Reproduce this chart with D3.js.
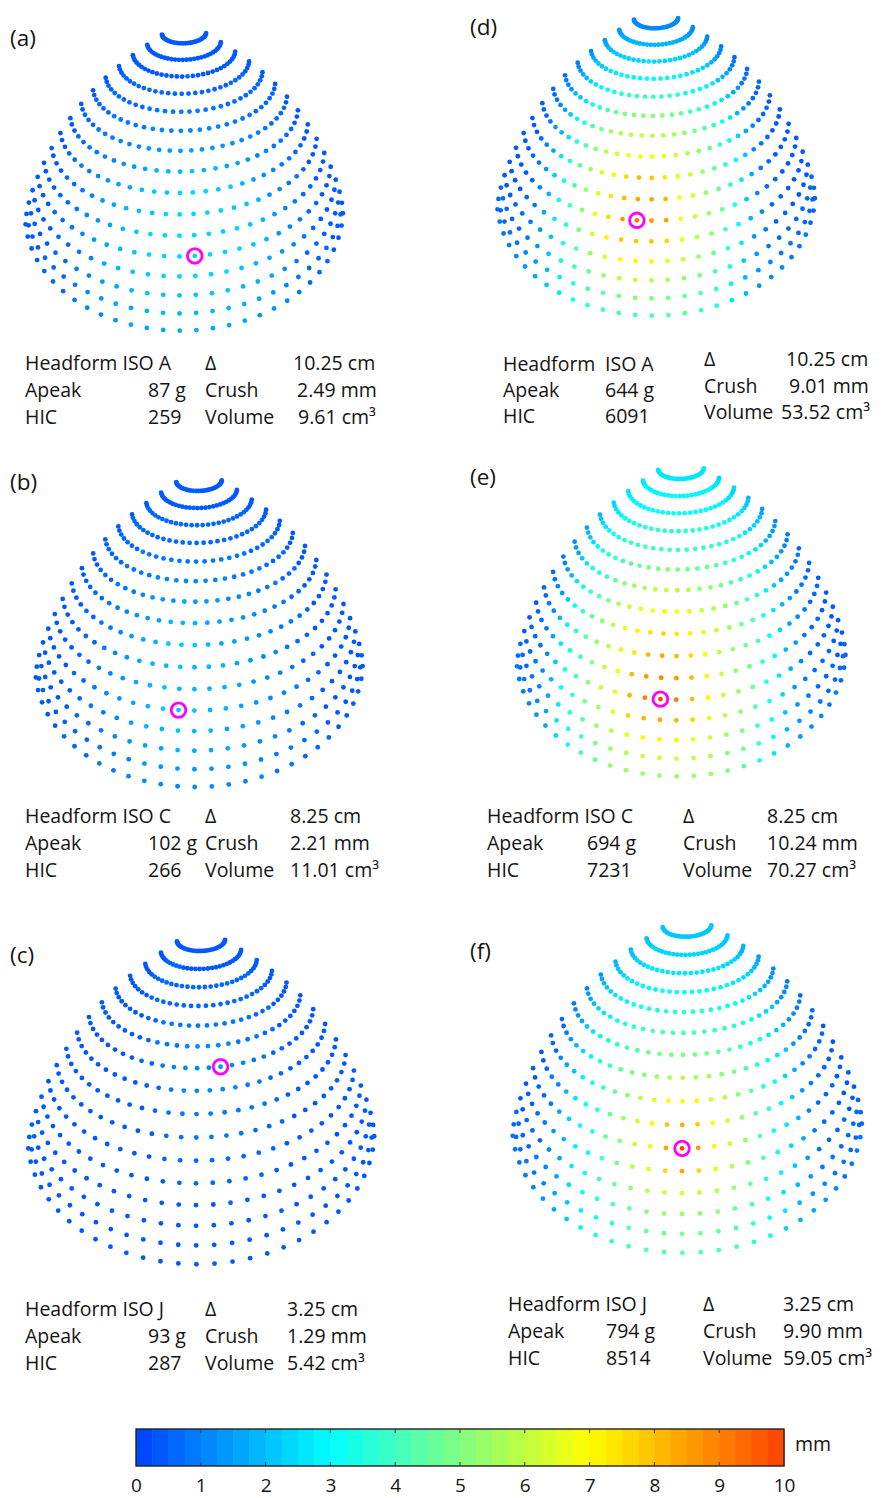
<!DOCTYPE html>
<html>
<head>
<meta charset="utf-8">
<script src="https://cdn.jsdelivr.net/npm/d3@7"></script>
<style>
  body { margin: 0; background: #fff; }
  svg text { font-family: "Open Sans", "Noto Sans", sans-serif; fill: #141414; }
</style>
</head>
<body>
<svg id="fig" width="882" height="1498"></svg>
<script>
// ---- test results per panel ----
const panelIds   = ["a", "b", "c", "d", "e", "f"];
const headforms  = ["ISO A", "ISO C", "ISO J", "ISO A", "ISO C", "ISO J"];
const deltaCm    = ["10.25", "8.25", "3.25", "10.25", "8.25", "3.25"];
const apeakG     = ["87", "102", "93", "644", "694", "794"];
const hicValues  = ["259", "266", "287", "6091", "7231", "8514"];
const crushMm    = [2.49, 2.21, 1.29, 9.01, 10.24, 9.90];
const volumeCm3  = ["9.61", "11.01", "5.42", "53.52", "70.27", "59.05"];

// impact point: ring index (0 = crown ring) and longitude index (-15 … 14)
const impactRing = [11, 11, 6, 10, 11, 10];
const impactLon  = [0, -2, 1, -2, -2, -1];

// residual crush (mm) on each ring along the impact meridian, crown → rim
const meridianA = [0.4, 0.4, 0.5, 0.6, 0.8, 1.1, 1.5, 2.0, 2.3, 2.4, 2.45, 2.49, 2.4, 2.2, 1.9, 1.5];
const meridianB = [0.5, 0.5, 0.6, 0.75, 0.9, 1.1, 1.5, 1.8, 2.1, 2.0, 1.95, 2.21, 2.0, 1.75, 1.45, 1.1];
const meridianC = [0.45, 0.45, 0.5, 0.6, 0.75, 1.0, 1.29, 1.05, 0.95, 0.85, 0.7, 0.6, 0.5, 0.45, 0.4, 0.35];
const meridianD = [1.2, 1.9, 2.5, 3.0, 4.0, 5.2, 6.0, 7.0, 8.0, 8.3, 9.01, 7.8, 7.0, 6.0, 5.0, 4.2];
const meridianE = [2.7, 3.0, 3.2, 3.7, 4.2, 5.0, 6.0, 7.0, 7.5, 8.3, 8.8, 10.24, 8.3, 7.0, 6.2, 5.3];
const meridianF = [2.2, 2.4, 2.7, 3.1, 3.6, 4.2, 5.0, 5.8, 7.0, 8.3, 9.90, 8.3, 6.3, 5.3, 4.8, 4.3];

// residual crush (mm) along the impact ring, by dot step away from the impact
const leftA  = [2.49, 2.45, 2.4, 2.3, 2.2, 1.9, 1.6, 1.3, 1.0, 0.8, 0.6, 0.5, 0.45, 0.4, 0.35, 0.35];
const rightA = [2.49, 2.45, 2.4, 2.3, 2.1, 1.8, 1.4, 1.1, 0.85, 0.65, 0.5, 0.45, 0.4, 0.35, 0.35];
const leftB  = [2.21, 2.15, 1.9, 1.6, 1.3, 1.0, 0.8, 0.65, 0.5, 0.45, 0.4, 0.35, 0.35, 0.35];
const rightB = [2.21, 2.0, 1.9, 1.8, 1.6, 1.4, 1.2, 1.0, 0.8, 0.65, 0.5, 0.45, 0.4, 0.35, 0.35, 0.35, 0.35];
const leftC  = [1.29, 1.2, 1.15, 1.1, 1.0, 0.85, 0.65, 0.5, 0.45, 0.4, 0.35, 0.35, 0.35, 0.35, 0.35, 0.35, 0.35];
const rightC = [1.29, 1.15, 1.05, 0.95, 0.8, 0.65, 0.5, 0.45, 0.4, 0.35, 0.35, 0.35, 0.35, 0.35];
const leftD  = [9.01, 8.5, 7.5, 6.5, 5.2, 4.0, 3.0, 1.8, 1.0, 0.6, 0.45, 0.4, 0.35, 0.35];
const rightD = [9.01, 8.5, 8.3, 7.0, 6.2, 5.3, 4.5, 3.5, 2.2, 1.2, 0.7, 0.5, 0.45, 0.4, 0.4, 0.4];
const leftE  = [10.24, 9.0, 8.2, 6.7, 6.0, 5.0, 4.0, 3.3, 2.2, 1.2, 0.8, 0.6, 0.5, 0.45];
const rightE = [10.24, 9.0, 8.2, 7.0, 6.0, 5.3, 4.6, 3.6, 2.6, 1.6, 1.0, 0.7, 0.55, 0.5, 0.45, 0.4];
const leftF  = [9.90, 8.3, 7.2, 6.2, 5.2, 4.5, 3.6, 3.0, 2.3, 1.5, 0.9, 0.6, 0.5, 0.45, 0.4];
const rightF = [9.90, 8.5, 7.0, 6.2, 5.3, 4.3, 3.4, 2.6, 1.8, 1.1, 0.7, 0.55, 0.5, 0.45, 0.4, 0.4];

// colour bar
const barTicks = [0, 1, 2, 3, 4, 5, 6, 7, 8, 9, 10];
const barUnit = "mm";

const meridians = [meridianA, meridianB, meridianC, meridianD, meridianE, meridianF];
const lefts  = [leftA, leftB, leftC, leftD, leftE, leftF];
const rights = [rightA, rightB, rightC, rightD, rightE, rightF];

// ---- layout ----
const layout = [
  { cx: 184, top: 43.3, s: 1.00, lab: [10, 46],  rows: [370, 397, 424], rrows: [370, 397, 424], cols: [25, 148, 205], c3: [293, 297, 298], isoX: null },
  { cx: 199, top: 491,  s: 1.03, lab: [10, 490], rows: [823, 850, 877], rrows: [823, 850, 877], cols: [25, 148, 205], c3: [290, 290, 290], isoX: null },
  { cx: 201, top: 951,  s: 1.09, lab: [10, 963], rows: [1316, 1343, 1370], rrows: [1316, 1343, 1370], cols: [25, 148, 205], c3: [287, 287, 287], isoX: null },
  { cx: 656, top: 28.3, s: 1.00, lab: [470, 35], rows: [371, 397, 423], rrows: [366, 393, 419], cols: [503, 605, 704], c3: [786, 789, 781], isoX: 605 },
  { cx: 681, top: 479,  s: 1.035, lab: [470, 485], rows: [823, 850, 877], rrows: [823, 850, 877], cols: [487, 587, 683], c3: [767, 767, 767], isoX: null },
  { cx: 687, top: 936.7, s: 1.10, lab: [470, 959], rows: [1311, 1338, 1365], rrows: [1311, 1338, 1365], cols: [508, 606, 703], c3: [783, 783, 783], isoX: null }
];

const NRINGS = 16;
const LON_STEP = 6;          // degrees between dots on a ring
const LON_MIN = -15, LON_MAX = 14;
const TILT = -2 * Math.PI / 180;
const DOT_R = 2.4;
const rad = Math.PI / 180;

// ring geometry of the dome projection
const ringTheta = i => 8 + 5.4 * i;                 // polar angle, degrees
const ringA = i => 159 * Math.sin(ringTheta(i) * rad);
const ringB = i => 10 + 7.2 * i;
const ringFront = i => d3.sum(d3.range(1, i + 1), k => 16.5 + 5 * Math.pow(Math.sin(Math.PI * (k - 1) / 16), 2));

// colour map: blue → cyan → yellow → red, 40 discrete bands over 0–10 mm
const cmapLinear = d3.scaleLinear()
  .domain([0, 3, 5, 7, 10])
  .range(["rgb(0,64,255)", "rgb(0,255,255)", "rgb(128,255,128)", "rgb(255,255,0)", "rgb(255,64,0)"])
  .interpolate(d3.interpolateRgb)
  .clamp(true);
const NBANDS = 40;
const bandColor = d3.scaleQuantize()
  .domain([0, 10])
  .range(d3.range(NBANDS).map(k => cmapLinear((k + 0.5) * 10 / NBANDS)));
const colorOf = v => bandColor(Math.max(0, Math.min(9.999, v)));

const svg = d3.select("#fig");

panelIds.forEach((id, p) => {
  const L = layout[p];
  const g = svg.append("g");
  const iRing = impactRing[p], iLon = impactLon[p];
  const merScale = d3.scaleLinear().domain(d3.range(NRINGS)).range(meridians[p]).clamp(true);
  const leftScale = d3.scaleLinear().domain(d3.range(lefts[p].length)).range(lefts[p]).clamp(true);
  const rightScale = d3.scaleLinear().domain(d3.range(rights[p].length)).range(rights[p]).clamp(true);
  const sinImp = Math.sin(ringTheta(iRing) * rad);

  // crush at ring i, longitude j: the meridian and along-ring profiles are
  // blended over elliptical contours centred on the impact
  const crushAt = (i, j) => {
    const k = i - iRing;
    const dLon = j - iLon;
    const s = Math.abs(dLon) * Math.sin(ringTheta(i) * rad) / sinImp;
    const r = Math.hypot(k, s);
    if (r === 0) return crushMm[p];
    const w = (k * k) / (r * r);
    const fSide = (dLon < 0 ? leftScale : rightScale)(r);
    const fMer = merScale(k < 0 ? iRing - r : iRing + r);
    return (1 - w) * fSide + w * fMer;
  };

  const pos = (i, j) => {
    const phi = (j + 0.5) * LON_STEP * rad;
    const a = ringA(i) * L.s, b = ringB(i) * L.s;
    const lx = a * Math.sin(phi), ly = b * Math.cos(phi);
    const rx = lx * Math.cos(TILT) - ly * Math.sin(TILT);
    const ry = lx * Math.sin(TILT) + ly * Math.cos(TILT);
    const cy = L.top + ringFront(i) * L.s - b;
    return [L.cx + rx, cy + ry];
  };

  const dots = [];
  for (let i = 0; i < NRINGS; i++) {
    for (let j = LON_MIN; j <= LON_MAX; j++) {
      const [x, y] = pos(i, j);
      dots.push({ i, j, x, y, v: crushAt(i, j) });
    }
  }

  g.selectAll("circle.dot")
    .data(dots)
    .join("circle")
    .attr("class", "dot")
    .attr("cx", d => d.x)
    .attr("cy", d => d.y)
    .attr("r", DOT_R)
    .attr("fill", d => colorOf(d.v));

  // impact marker
  const [ix, iy] = pos(iRing, iLon);
  g.append("circle").attr("cx", ix).attr("cy", iy).attr("r", 7.3)
    .attr("fill", "#fff").attr("stroke", "#ff00ff").attr("stroke-width", 2.8);
  g.append("circle").attr("cx", ix).attr("cy", iy).attr("r", DOT_R)
    .attr("fill", colorOf(crushMm[p]));

  // panel label
  g.append("text").attr("x", L.lab[0]).attr("y", L.lab[1])
    .attr("font-size", 22.5).text(`(${id})`);

  // result table
  const fs = 19.5;
  const t = (x, y, s) => g.append("text").attr("x", x).attr("y", y).attr("font-size", fs).text(s);
  if (L.isoX === null) {
    t(L.cols[0], L.rows[0], "Headform " + headforms[p]);
  } else {
    t(L.cols[0], L.rows[0], "Headform");
    t(L.isoX, L.rows[0], headforms[p]);
  }
  t(L.cols[0], L.rows[1], "Apeak");
  t(L.cols[1], L.rows[1], apeakG[p] + " g");
  t(L.cols[0], L.rows[2], "HIC");
  t(L.cols[1], L.rows[2], hicValues[p]);
  t(L.cols[2], L.rrows[0], "Δ");
  t(L.c3[0], L.rrows[0], deltaCm[p] + " cm");
  t(L.cols[2], L.rrows[1], "Crush");
  t(L.c3[1], L.rrows[1], crushMm[p].toFixed(2) + " mm");
  t(L.cols[2], L.rrows[2], "Volume");
  t(L.c3[2], L.rrows[2], volumeCm3[p] + " cm³");
});

// ---- colour bar ----
const bar = { x0: 136, x1: 784, y0: 1429, y1: 1466 };
const bx = d3.scaleLinear().domain([0, 10]).range([bar.x0, bar.x1]);
const cb = svg.append("g");
cb.selectAll("rect.band")
  .data(d3.range(NBANDS))
  .join("rect")
  .attr("class", "band")
  .attr("x", k => bx(k * 10 / NBANDS))
  .attr("y", bar.y0)
  .attr("width", (bar.x1 - bar.x0) / NBANDS + 0.5)
  .attr("height", bar.y1 - bar.y0)
  .attr("fill", k => bandColor((k + 0.5) * 10 / NBANDS));
cb.append("rect").attr("x", bar.x0).attr("y", bar.y0)
  .attr("width", bar.x1 - bar.x0).attr("height", bar.y1 - bar.y0)
  .attr("fill", "none").attr("stroke", "#222").attr("stroke-width", 1.4);
cb.selectAll("line.tt").data(barTicks.slice(1, -1)).join("line").attr("class", "tt")
  .attr("x1", d => bx(d)).attr("x2", d => bx(d))
  .attr("y1", bar.y0).attr("y2", bar.y0 + 4).attr("stroke", "#333").attr("stroke-width", 1);
cb.selectAll("line.tb").data(barTicks.slice(1, -1)).join("line").attr("class", "tb")
  .attr("x1", d => bx(d)).attr("x2", d => bx(d))
  .attr("y1", bar.y1 - 4).attr("y2", bar.y1).attr("stroke", "#333").attr("stroke-width", 1);
const axis = d3.axisBottom(bx).tickValues(barTicks).tickSize(0).tickPadding(0);
const ag = cb.append("g").attr("transform", `translate(0,${bar.y1 + 26})`).call(axis);
ag.select(".domain").remove();
ag.selectAll("text").attr("font-size", 19).attr("fill", "#141414")
  .attr("dy", 0).attr("font-family", "\"Open Sans\", \"Noto Sans\", sans-serif");
cb.append("text").attr("x", 795).attr("y", bar.y0 + 22).attr("font-size", 19.5).text(barUnit);
</script>
</body>
</html>
